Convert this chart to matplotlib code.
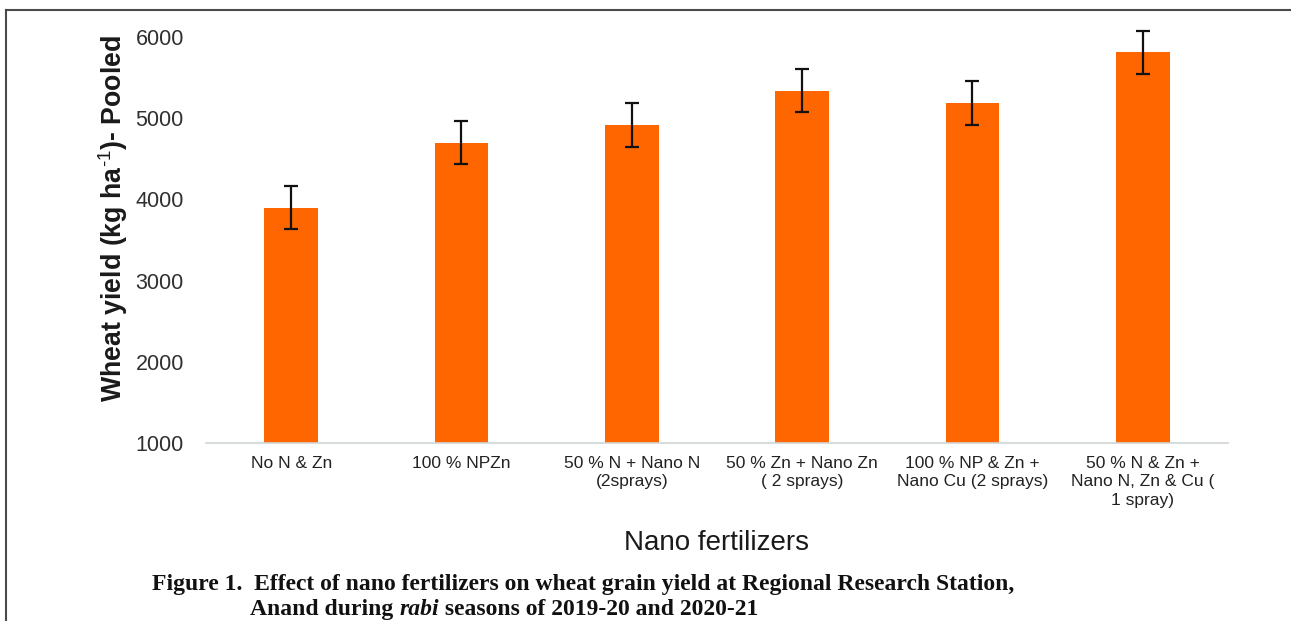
import matplotlib
matplotlib.use("Agg")
import matplotlib.pyplot as plt
from matplotlib.lines import Line2D

categories = [
    "No N & Zn",
    "100 % NPZn",
    "50 % N + Nano N\n(2sprays)",
    "50 % Zn + Nano Zn\n( 2 sprays)",
    "100 % NP & Zn +\nNano Cu (2 sprays)",
    "50 % N & Zn +\nNano N, Zn & Cu (\n1 spray)",
]
yield_pooled = [3900, 4700, 4920, 5340, 5190, 5810]
yield_err = [270, 260, 270, 260, 270, 260]
yticks = [1000, 2000, 3000, 4000, 5000, 6000]

plt.rcParams['mathtext.fontset'] = 'custom'
plt.rcParams['mathtext.rm'] = 'Liberation Sans'
plt.rcParams['mathtext.bf'] = 'Liberation Sans:bold'

W, H = 1291, 621
fig = plt.figure(figsize=(W / 100, H / 100), dpi=100)
ax = fig.add_axes([206 / W, 1 - 443 / H, (1228 - 206) / W, (443 - 37) / H])

x = list(range(len(categories)))
ax.bar(x, yield_pooled, width=0.315, color="#FF6600", zorder=2)
ax.errorbar(x, yield_pooled, yerr=yield_err, fmt="none", ecolor="#111111",
            elinewidth=1.6, capsize=5, capthick=1.6, zorder=3, clip_on=False)

ax.set_xlim(-0.5, len(categories) - 0.5)
ax.set_ylim(1000, 6000)
ax.set_yticks(yticks)
ax.set_yticklabels([str(v) for v in yticks], fontsize=15.5, family="Liberation Sans", color="#303030")
ax.set_xticks(x)
ax.set_xticklabels(categories, fontsize=12.5, family="Liberation Sans", color="#222222",
                   linespacing=1.3)
ax.tick_params(axis="y", length=0, pad=16)
ax.tick_params(axis="x", length=0, pad=9)
for s in ["top", "right", "left"]:
    ax.spines[s].set_visible(False)
ax.spines["bottom"].set_color("#d0d4d4")
ax.spines["bottom"].set_linewidth(1.2)

ax.set_ylabel(r"Wheat yield (kg ha$^{\text{-1}}$)- Pooled", fontsize=19.3, fontweight="bold",
              family="Liberation Sans", color="#1a1a1a")
ax.yaxis.set_label_coords(-0.0745, 0.553)
fig.text(717 / W, 1 - 543 / H, "Nano fertilizers", fontsize=20, family="Liberation Sans",
         color="#1a1a1a", ha="center", va="center")

# caption
fig.canvas.draw()
r = fig.canvas.get_renderer()
cap_family = "Liberation Serif"
line1 = "Figure 1.  Effect of nano fertilizers on wheat grain yield at Regional Research Station,"
probe = fig.text(0, 0, line1, fontsize=12, family=cap_family, fontweight="bold")
pw = probe.get_window_extent(renderer=r).width
probe.remove()
cap_size = 12 * (1007 - 152) / pw
cap_kw = dict(fontsize=cap_size, family=cap_family, fontweight="bold", color="#111111", va="baseline")
t1 = fig.text(152 / W, 1 - 590 / H, line1, **cap_kw)
xpos = 250 / W
ypos = 1 - 615 / H
for part, style in [("Anand during ", "normal"), ("rabi", "italic"), (" seasons of 2019-20 and 2020-21", "normal")]:
    t = fig.text(xpos, ypos, part, style=style, **cap_kw)
    bb = t.get_window_extent(renderer=r)
    xpos += bb.width / W

# frame
fig.add_artist(Line2D([6 / W, 6 / W], [0, 1 - 10 / H], transform=fig.transFigure, color="#4a4a4a", lw=1.5))
fig.add_artist(Line2D([6 / W, 1], [1 - 10 / H, 1 - 10 / H], transform=fig.transFigure, color="#4a4a4a", lw=1.5))

fig.savefig("out.png", dpi=100)
